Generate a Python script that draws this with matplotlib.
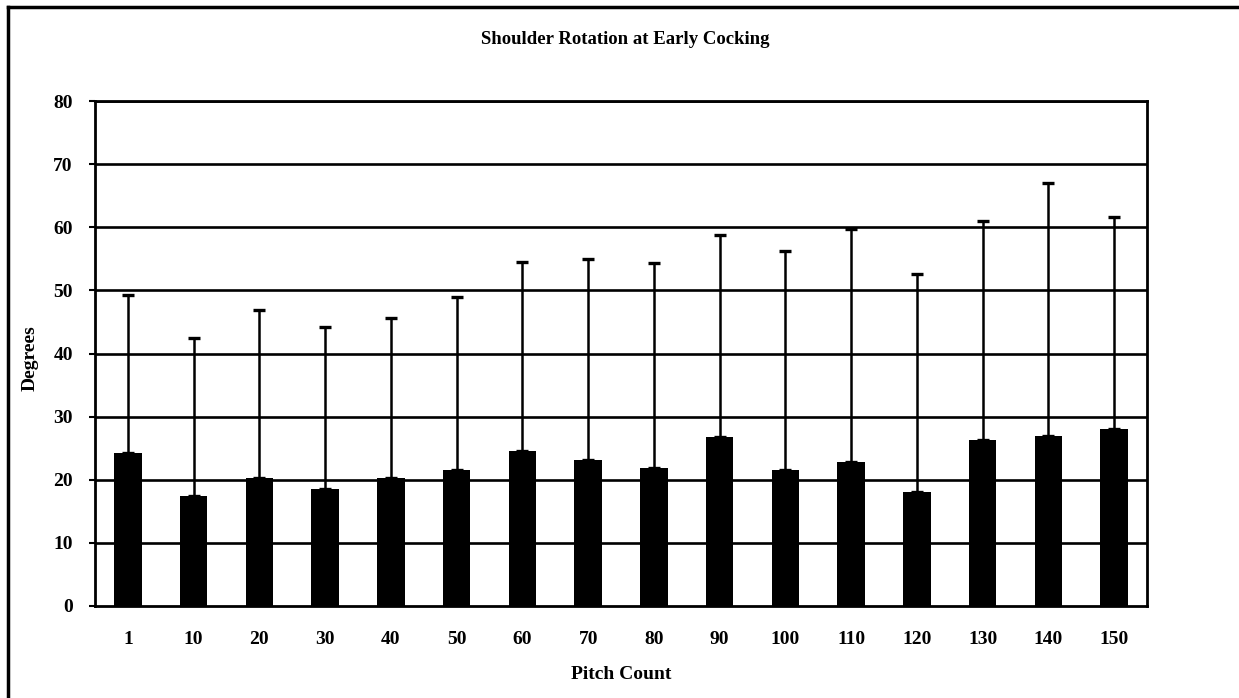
import numpy as np
import matplotlib.pyplot as plt
from matplotlib.lines import Line2D

# pitch count categories and shoulder rotation (degrees)
pitch_labels = ['1', '10', '20', '30', '40', '50', '60', '70', '80', '90',
                '100', '110', '120', '130', '140', '150']
mean_deg = [24.2, 17.4, 20.3, 18.6, 20.2, 21.6, 24.6, 23.2, 21.8, 26.7,
            21.5, 22.8, 18.0, 26.3, 26.9, 28.0]
upper_deg = [49.3, 42.5, 46.9, 44.2, 45.6, 48.9, 54.5, 54.9, 54.4, 58.8,
             56.2, 59.8, 52.6, 61.0, 67.0, 61.7]
y_ticks = [0, 10, 20, 30, 40, 50, 60, 70, 80]

plt.rcParams['font.family'] = ['Liberation Serif', 'DejaVu Serif']
plt.rcParams['font.weight'] = 'bold'

fig = plt.figure(figsize=(12.39, 6.98), dpi=100)
ax = fig.add_axes([95/1239, 1 - 606/698, (1147-95)/1239, (606-101)/698])

x = np.arange(len(pitch_labels))
mean_deg = np.array(mean_deg)
err_up = np.array(upper_deg) - mean_deg

#==========================================================================
# grid, bars and one-sided error bars
#==========================================================================
for t in y_ticks[1:]:
    ax.axhline(t, color='black', lw=1.9, zorder=1)

ax.bar(x, mean_deg, width=0.42, color='black', zorder=2)
ax.errorbar(x, mean_deg, yerr=[np.zeros_like(err_up), err_up], fmt='none',
            ecolor='black', elinewidth=1.8, capsize=4, capthick=2.4, zorder=3)

ax.set_xlim(-0.5, len(pitch_labels) - 0.5)
ax.set_ylim(0, 80)
ax.set_yticks(y_ticks)
ax.set_xticks(x)
ax.set_xticklabels(pitch_labels)
ax.tick_params(axis='x', length=0, pad=18, labelsize=14)
ax.tick_params(axis='y', length=4, width=1.5, direction='out', pad=12, labelsize=14)
for s in ax.spines.values():
    s.set_linewidth(2)

ax.set_ylabel('Degrees', fontsize=14, fontweight='bold')
ax.yaxis.set_label_coords(-0.054, 0.49)
ax.set_xlabel('Pitch Count', fontsize=14, fontweight='bold', labelpad=13)
fig.text(0.505, 1 - 40/698, 'Shoulder Rotation at Early Cocking',
         ha='center', va='center', fontsize=13.5, fontweight='bold')

# outer chart border (only left and top visible)
fig.add_artist(Line2D([8/1239, 8/1239], [0, 1 - 7/698], color='black', lw=2.5,
                      transform=fig.transFigure))
fig.add_artist(Line2D([8/1239, 1], [1 - 7/698, 1 - 7/698], color='black', lw=2.5,
                      transform=fig.transFigure))

fig.savefig('out.png', dpi=100)
